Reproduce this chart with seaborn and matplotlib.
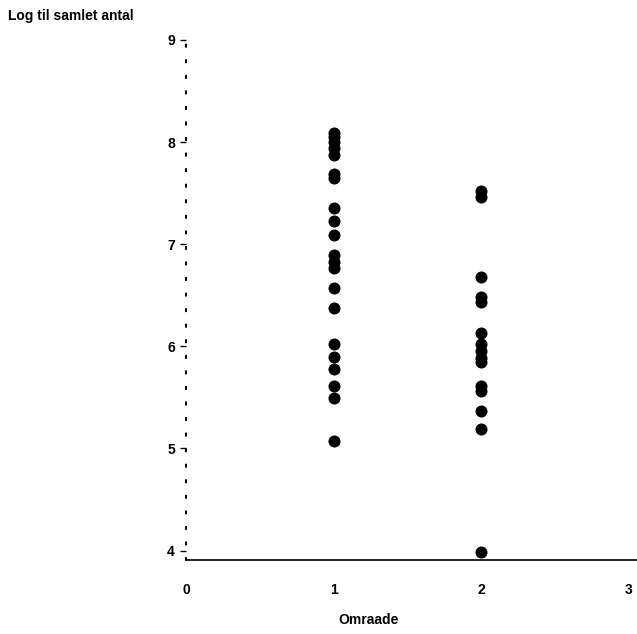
import numpy as np
import pandas as pd
import seaborn as sns
import matplotlib.pyplot as plt

# values
omraade_1 = [8.09, 8.05, 8.00, 7.94, 7.87, 7.69, 7.65, 7.35, 7.23, 7.09, 6.89,
             6.83, 6.77, 6.57, 6.38, 6.02, 5.90, 5.78, 5.61, 5.49, 5.07]
omraade_2 = [7.52, 7.46, 6.68, 6.48, 6.43, 6.13, 6.02, 5.95, 5.89, 5.85, 5.61,
             5.56, 5.37, 5.19, 3.99]
x_ticks = [0, 1, 2, 3]
y_ticks = [4, 5, 6, 7, 8, 9]

df = pd.DataFrame({
    'Omraade': [1] * len(omraade_1) + [2] * len(omraade_2),
    'log_antal': omraade_1 + omraade_2,
})

sns.set_style('white')
plt.rcParams['font.family'] = ['Liberation Sans', 'DejaVu Sans']
plt.rcParams['font.weight'] = 'bold'
plt.rcParams['text.color'] = 'black'
plt.rcParams['xtick.color'] = 'black'
plt.rcParams['ytick.color'] = 'black'

fig = plt.figure(figsize=(6.37, 6.34), dpi=100)
ax = fig.add_axes([0.292, 0.117, 0.708, 0.820])

sns.scatterplot(data=df, x='Omraade', y='log_antal', color='black',
                s=75, edgecolor='black', linewidth=0, ax=ax, legend=False)

ax.set_xlim(0, 3.054)
ax.set_ylim(3.91, 9.0)
ax.set_xticks(x_ticks)
ax.set_yticks(y_ticks)
ax.set_xticklabels([str(t) for t in x_ticks], fontsize=10, fontweight='bold')
ax.set_yticklabels([str(t) for t in y_ticks], fontsize=10, fontweight='bold')
ax.tick_params(axis='x', length=0, pad=17, labelcolor='black')
ax.tick_params(axis='y', length=4, width=1, pad=4, color='black',
               labelcolor='black', left=True)

# spines: dotted left, solid bottom
for s in ['top', 'right']:
    ax.spines[s].set_visible(False)
ax.spines['left'].set_linestyle((0, (1, 7)))
ax.spines['left'].set_linewidth(1.4)
ax.spines['left'].set_color('black')
ax.spines['bottom'].set_linewidth(1.2)
ax.spines['bottom'].set_color('black')

ax.set_xlabel('')
ax.set_ylabel('')
fig.text(0.578, 0.022, 'Omraade', fontsize=10, fontweight='bold',
         ha='center', va='center')
fig.text(0.013, 0.975, 'Log til samlet antal', fontsize=10, fontweight='bold',
         ha='left', va='center')

fig.savefig('out.png', dpi=100)
